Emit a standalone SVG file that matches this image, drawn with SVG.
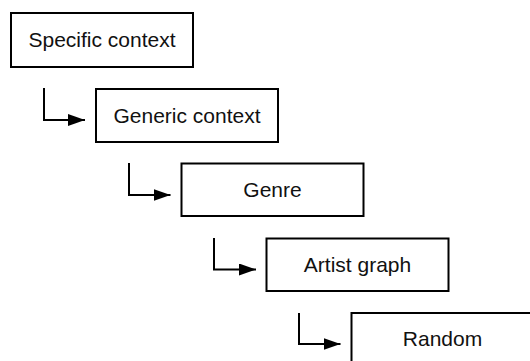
<svg xmlns="http://www.w3.org/2000/svg" width="530" height="361" viewBox="0 0 530 361">
<style>
.box{fill:#fff;stroke:#000;stroke-width:2}
.lbl{font-family:"Liberation Sans",Arial,sans-serif;font-size:21px;fill:#111;text-anchor:middle}
.conn{fill:none;stroke:#000;stroke-width:2}
</style>
<defs>
<marker id="ah" viewBox="0 0 17 12" refX="17" refY="6" markerWidth="17" markerHeight="12" markerUnits="userSpaceOnUse" orient="auto">
<path d="M0,0 L17,6 L0,12 Z" fill="#000"/>
</marker>
</defs>
<rect width="530" height="361" fill="#fff"/>
<g id="n1"><rect class="box" x="11" y="13" width="182" height="54"/><text class="lbl" x="102" y="47">Specific context</text></g>
<g id="n2"><rect class="box" x="96" y="89" width="182" height="53"/><text class="lbl" x="187" y="122.5">Generic context</text></g>
<g id="n3"><rect class="box" x="181.5" y="163.5" width="182" height="52.5"/><text class="lbl" x="272.5" y="196.5">Genre</text></g>
<g id="n4"><rect class="box" x="266.5" y="238.5" width="182" height="52.5"/><text class="lbl" x="357.5" y="271.5">Artist graph</text></g>
<g id="n5"><rect class="box" x="351.5" y="313" width="182" height="53"/><text class="lbl" x="442.5" y="346">Random</text></g>
<g id="connectors">
<path class="conn" d="M44,88 V120 H85" marker-end="url(#ah)"/>
<path class="conn" d="M129,163 V195 H170.5" marker-end="url(#ah)"/>
<path class="conn" d="M214,238 V269.5 H256" marker-end="url(#ah)"/>
<path class="conn" d="M299,313 V344 H340.5" marker-end="url(#ah)"/>
</g>
</svg>
